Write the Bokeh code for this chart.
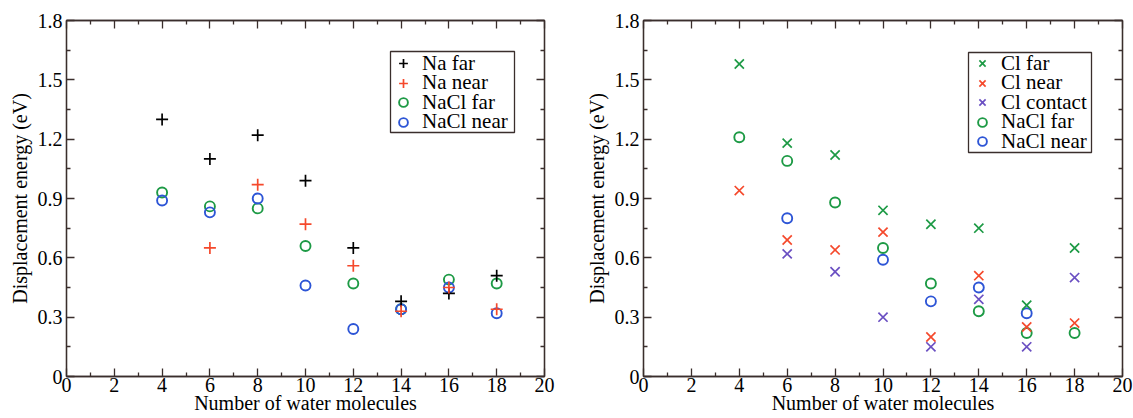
from bokeh.plotting import figure
from bokeh.layouts import row
from bokeh.models import (Range1d, FixedTicker, LinearAxis, Legend, LegendItem,
                          BoxAnnotation)
from bokeh.embed import file_html
from bokeh.resources import INLINE

# Number of water molecules in the cluster
water = [4, 6, 8, 10, 12, 14, 16, 18]
water_from6 = [6, 8, 10, 12, 14, 16, 18]
water_nacl_near_r = [6, 10, 12, 14, 16]

# Left panel: sodium displacement energies (eV)
na_far = [1.30, 1.10, 1.22, 0.99, 0.65, 0.38, 0.42, 0.51]
na_near = [0.65, 0.97, 0.77, 0.56, 0.33, 0.45, 0.34]
nacl_far_l = [0.93, 0.86, 0.85, 0.66, 0.47, 0.34, 0.49, 0.47]
nacl_near_l = [0.89, 0.83, 0.90, 0.46, 0.24, 0.34, 0.45, 0.32]

# Right panel: chloride displacement energies (eV)
cl_far = [1.58, 1.18, 1.12, 0.84, 0.77, 0.75, 0.36, 0.65]
cl_near = [0.94, 0.69, 0.64, 0.73, 0.20, 0.51, 0.25, 0.27]
cl_contact = [0.62, 0.53, 0.30, 0.15, 0.39, 0.15, 0.50]
nacl_far_r = [1.21, 1.09, 0.88, 0.65, 0.47, 0.33, 0.22, 0.22]
nacl_near_r = [0.80, 0.59, 0.38, 0.45, 0.32]

x_ticks = [0, 2, 4, 6, 8, 10, 12, 14, 16, 18, 20]
x_minor = [1, 3, 5, 7, 9, 11, 13, 15, 17, 19]
y_ticks = [0, 0.3, 0.6, 0.9, 1.2, 1.5, 1.8]
y_minor = [0.15, 0.45, 0.75, 1.05, 1.35, 1.65]
y_labels = {0: "0", 0.3: "0.3", 0.6: "0.6", 0.9: "0.9", 1.2: "1.2", 1.5: "1.5", 1.8: "1.8"}

X_TITLE = "Number of water molecules"
Y_TITLE = "Displacement energy (eV)"

FONT = "Liberation Serif"
AXIS_COLOR = "#3a2e2c"
BLACK = "#000000"
RED = "#f5492c"
GREEN = "#1d9a45"
BLUE = "#2d55d6"
PURPLE = "#6a4fc2"


def style_axis(ax, labels=True):
    ax.axis_line_color = AXIS_COLOR
    ax.axis_line_width = 1.3
    ax.major_tick_line_color = AXIS_COLOR
    ax.minor_tick_line_color = AXIS_COLOR
    ax.major_tick_line_width = 1.3
    ax.minor_tick_line_width = 1.3
    ax.major_tick_in = 8
    ax.major_tick_out = 0
    ax.minor_tick_in = 4
    ax.minor_tick_out = 0
    if labels:
        ax.major_label_text_font = FONT
        ax.major_label_text_font_size = "20px"
        ax.major_label_text_color = "black"
        ax.major_label_standoff = 4
        ax.axis_label_text_font = FONT
        ax.axis_label_text_font_size = "20px"
        ax.axis_label_text_font_style = "normal"
        ax.axis_label_text_color = "black"
    else:
        ax.major_label_text_font_size = "0px"
        ax.major_label_standoff = 0
        ax.axis_label_standoff = 0


def make_panel(width, border_left, border_right):
    p = figure(width=width, height=418,
               x_range=Range1d(0, 20), y_range=Range1d(0, 1.8),
               output_backend="svg", toolbar_location=None,
               min_border_left=border_left, min_border_right=border_right,
               min_border_top=20, min_border_bottom=42)
    p.grid.visible = False
    p.outline_line_color = AXIS_COLOR
    p.outline_line_width = 1.3
    p.background_fill_color = "white"
    p.border_fill_color = "white"

    p.xaxis.ticker = FixedTicker(ticks=x_ticks, minor_ticks=x_minor)
    p.yaxis.ticker = FixedTicker(ticks=y_ticks, minor_ticks=y_minor)
    p.yaxis.major_label_overrides = y_labels
    p.xaxis.axis_label = X_TITLE
    p.yaxis.axis_label = Y_TITLE
    for ax in p.xaxis:
        style_axis(ax)
        ax.major_label_standoff = 1
        ax.axis_label_standoff = -3
    for ax in p.yaxis:
        style_axis(ax)
        ax.axis_label_standoff = 4

    # mirrored ticks on the top and right edges of the frame
    top = LinearAxis(ticker=FixedTicker(ticks=x_ticks, minor_ticks=x_minor),
                     major_label_overrides={t: "" for t in x_ticks})
    right = LinearAxis(ticker=FixedTicker(ticks=y_ticks, minor_ticks=y_minor),
                       major_label_overrides={t: "" for t in y_ticks})
    style_axis(top, labels=False)
    style_axis(right, labels=False)
    p.add_layout(top, "above")
    p.add_layout(right, "right")
    return p


def plus(p, xs, ys, color):
    return p.scatter(xs, ys, marker="cross", size=12, line_color=color, line_width=1.7)


def xmark(p, xs, ys, color):
    return p.scatter(xs, ys, marker="x", size=13, line_color=color, line_width=1.7)


def ring(p, xs, ys, color):
    return p.scatter(xs, ys, marker="circle", size=10, fill_color=None,
                     line_color=color, line_width=1.9)


ROW_H = 26


def add_legend(p, items, box, row_centers, glyph_left):
    """Framed legend: a white box, then one single-entry legend per row,
    so the rows can sit closer together than the label font height."""
    left, right, bottom, top = box
    p.add_layout(BoxAnnotation(left=left, right=right, bottom=bottom, top=top,
                               left_units="screen", right_units="screen",
                               bottom_units="screen", top_units="screen",
                               fill_color="white", fill_alpha=1.0,
                               line_color=AXIS_COLOR, line_width=1.3,
                               line_alpha=1.0))
    for item, cy in zip(items, row_centers):
        lg = Legend(items=[item], location=(glyph_left, cy - ROW_H / 2))
        lg.label_text_font = FONT
        lg.label_text_font_size = "21px"
        lg.label_text_color = "black"
        lg.label_height = ROW_H
        lg.glyph_height = ROW_H
        lg.glyph_width = 22
        lg.label_standoff = 8
        lg.spacing = 0
        lg.padding = 0
        lg.margin = 0
        lg.border_line_alpha = 0
        lg.background_fill_alpha = 0
        p.add_layout(lg, "center")


# Left panel: Na
p1 = make_panel(560, 66, 16)
r_nacl_far_l = ring(p1, water, nacl_far_l, GREEN)
r_nacl_near_l = ring(p1, water, nacl_near_l, BLUE)
r_na_far = plus(p1, water, na_far, BLACK)
r_na_near = plus(p1, water_from6, na_near, RED)
add_legend(p1, [
    LegendItem(label="Na far", renderers=[r_na_far]),
    LegendItem(label="Na near", renderers=[r_na_near]),
    LegendItem(label="NaCl far", renderers=[r_nacl_far_l]),
    LegendItem(label="NaCl near", renderers=[r_nacl_near_l]),
], (324, 448, 244, 325), [313, 293.5, 274, 254.5], 326)

# Right panel: Cl
p2 = make_panel(573, 83, 11)
r_nacl_far_r = ring(p2, water, nacl_far_r, GREEN)
r_nacl_near_r = ring(p2, water_nacl_near_r, nacl_near_r, BLUE)
r_cl_far = xmark(p2, water, cl_far, GREEN)
r_cl_near = xmark(p2, water, cl_near, RED)
r_cl_contact = xmark(p2, water_from6, cl_contact, PURPLE)
add_legend(p2, [
    LegendItem(label="Cl far", renderers=[r_cl_far]),
    LegendItem(label="Cl near", renderers=[r_cl_near]),
    LegendItem(label="Cl contact", renderers=[r_cl_contact]),
    LegendItem(label="NaCl far", renderers=[r_nacl_far_r]),
    LegendItem(label="NaCl near", renderers=[r_nacl_near_r]),
], (325, 448, 224, 324), [313, 293.5, 274, 254.5, 235], 328)

layout = row(p1, p2, spacing=0)
open("out.html", "w").write(file_html(layout, INLINE))
